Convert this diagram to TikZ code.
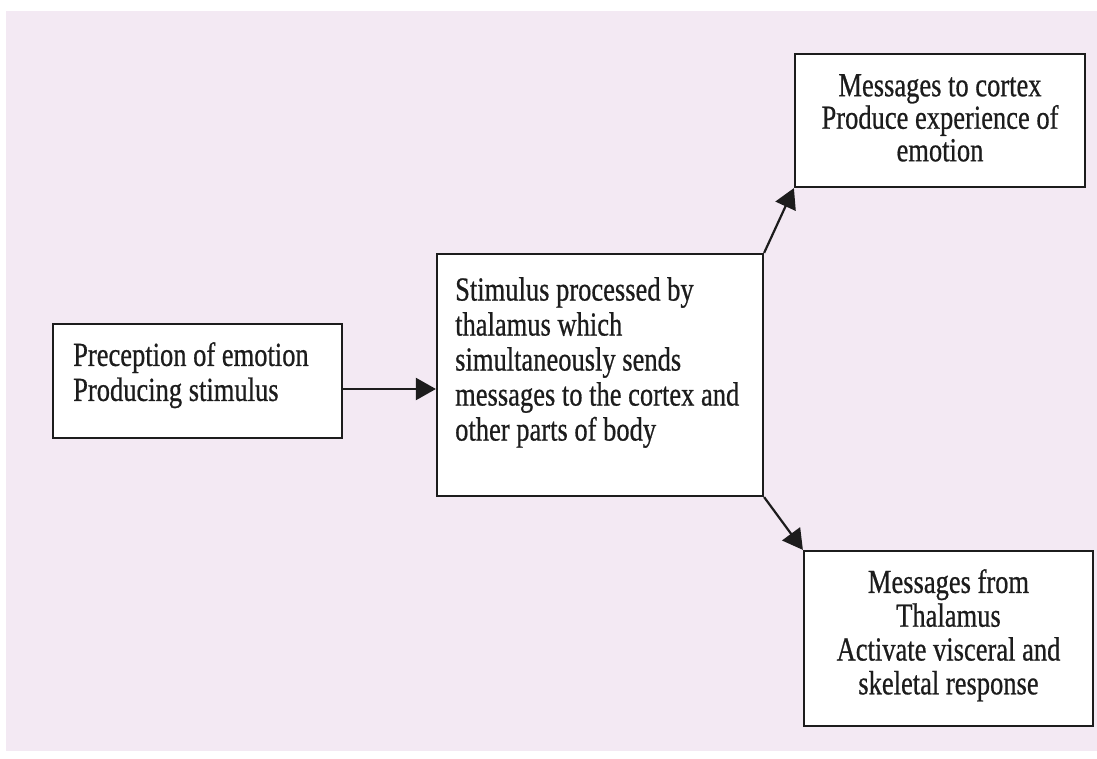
\documentclass[tikz,border=0pt]{standalone}
\usepackage{fontspec}
\setmainfont[FakeBold=0.7]{Liberation Serif}
\usepackage{graphicx}
\usetikzlibrary{arrows.meta}
\definecolor{pagepink}{RGB}{243,233,243}
\definecolor{ink}{RGB}{28,28,28}
% lines of print are set slightly tall
\newcommand{\tall}[1]{\scalebox{1}[1.27]{#1}}
\begin{document}
\begin{tikzpicture}[x=1pt,y=-1pt,
  box/.style={rectangle, draw=ink, line width=2.2pt, fill=white, inner sep=0pt},
  txt/.style={inner sep=0pt, text=ink, font=\fontsize{26.5}{35}\selectfont},
  arr/.style={draw=ink, line width=2.2pt, -{Triangle[length=20pt,width=22pt]}}]
\useasboundingbox (0,0) rectangle (1097,758);
\fill[pagepink] (6,11) rectangle (1097,751);

% boxes
\node[box, minimum width=289pt, minimum height=114pt] (percept) at (197.5,381) {};
\node[box, minimum width=326pt, minimum height=242pt] (thal) at (600,375) {};
\node[box, minimum width=290pt, minimum height=133pt] (cortex) at (940,120.5) {};
\node[box, minimum width=289pt, minimum height=175pt] (body) at (948.5,638.5) {};

% texts
\node[txt, anchor=north west, align=left] (percepttext) at (73,342)
  {\tall{Preception of emotion}\\\tall{Producing stimulus}};
\node[txt, anchor=north west, align=left] (thaltext) at (455,277)
  {\tall{Stimulus processed by}\\\tall{thalamus which}\\\tall{simultaneously sends}\\
   \tall{messages to the cortex and}\\\tall{other parts of body}};
\node[txt, font=\fontsize{26.5}{32.5}\selectfont, anchor=north, align=center] (cortextext) at (940,74)
  {\tall{Messages to cortex}\\\tall{Produce experience of}\\\tall{emotion}};
\node[txt, font=\fontsize{26.5}{33.8}\selectfont, anchor=north, align=center] (bodytext) at (948.5,569)
  {\tall{Messages from}\\\tall{Thalamus}\\\tall{Activate visceral and}\\\tall{skeletal response}};

% connectors
\coordinate (pout) at ([yshift=-8pt]percept.east);
\draw[arr] (pout) -- (pout -| thal.west);
\draw[arr] (thal.north east) -- (cortex.south west);
\draw[arr] (thal.south east) -- (body.north west);
\end{tikzpicture}
\end{document}
